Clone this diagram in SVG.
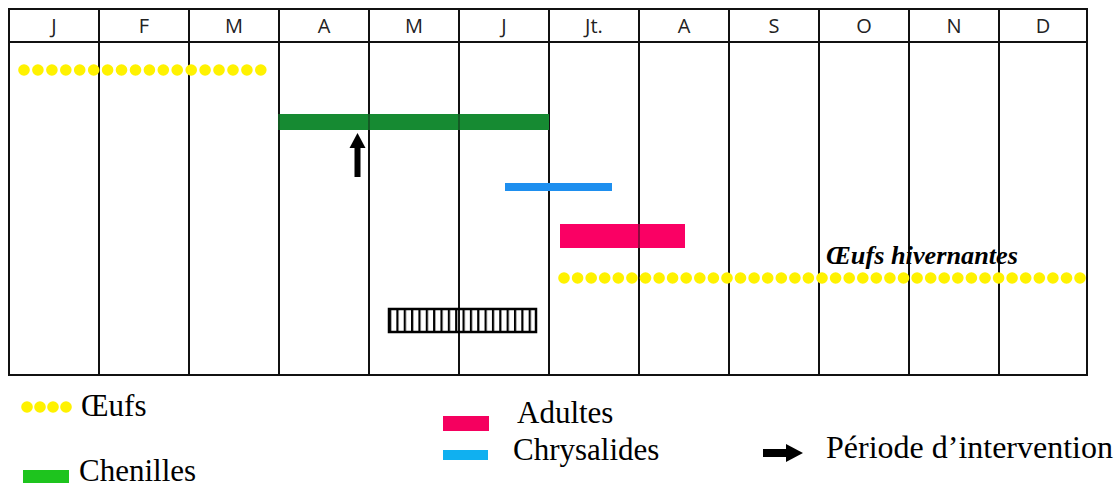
<svg xmlns="http://www.w3.org/2000/svg" width="1119" height="486" viewBox="0 0 1119 486">
<style>
.grid{stroke:#111;stroke-width:2;fill:none}
.mon{font-family:"Open Sans","Liberation Sans",sans-serif;font-size:20px;fill:#222;text-anchor:middle}
.egg{fill:#fff200}
.leg{font-family:"Liberation Serif","Times New Roman",serif;font-size:31px;fill:#000}
.hiv{font-family:"Liberation Serif","Times New Roman",serif;font-size:25px;font-weight:bold;font-style:italic;fill:#000}
</style>
<defs>
<circle id="dot" r="5.8" class="egg"/>
<pattern id="hatch" x="389" y="0" width="7.35" height="30" patternUnits="userSpaceOnUse">
<rect x="0" y="0" width="2.2" height="30" fill="#000"/>
</pattern>
</defs>
<rect width="1119" height="486" fill="#fff"/>
<g id="table">
<rect x="9" y="9" width="1078" height="366" class="grid"/>
<line x1="9" y1="42" x2="1087" y2="42" class="grid"/>
<path class="grid" d="M99 9V375M189 9V375M279 9V375M369 9V375M459 9V375M549 9V375M639 9V375M729 9V375M819 9V375M909 9V375M999 9V375"/>
<text class="mon" x="54" y="33">J</text>
<text class="mon" x="144" y="33">F</text>
<text class="mon" x="234" y="33">M</text>
<text class="mon" x="324" y="33">A</text>
<text class="mon" x="414" y="33">M</text>
<text class="mon" x="504" y="33">J</text>
<text class="mon" x="594" y="33">Jt.</text>
<text class="mon" x="684" y="33">A</text>
<text class="mon" x="774" y="33">S</text>
<text class="mon" x="864" y="33">O</text>
<text class="mon" x="954" y="33">N</text>
<text class="mon" x="1043" y="33">D</text>
</g>
<g id="oeufs-hiver-debut">
<use href="#dot" x="24" y="70"/><use href="#dot" x="37.9" y="70"/><use href="#dot" x="51.9" y="70"/><use href="#dot" x="65.8" y="70"/><use href="#dot" x="79.7" y="70"/><use href="#dot" x="93.7" y="70"/><use href="#dot" x="107.6" y="70"/><use href="#dot" x="121.5" y="70"/><use href="#dot" x="135.5" y="70"/><use href="#dot" x="149.4" y="70"/><use href="#dot" x="163.3" y="70"/><use href="#dot" x="177.2" y="70"/><use href="#dot" x="191.2" y="70"/><use href="#dot" x="205.1" y="70"/><use href="#dot" x="219" y="70"/><use href="#dot" x="233" y="70"/><use href="#dot" x="246.9" y="70"/><use href="#dot" x="260.8" y="70"/>
</g>
<g id="chenilles">
<rect x="278" y="114" width="271" height="16" fill="#168a32"/>
<path d="M279 114V130M369 114V130M459 114V130" stroke="#111" stroke-width="1.5" opacity="0.5"/>
</g>
<g id="intervention">
<rect x="354.5" y="147" width="6" height="30" fill="#000"/>
<polygon points="357.5,133 349.5,148 365.5,148" fill="#000"/>
</g>
<g id="chrysalides">
<rect x="505" y="183" width="107" height="8" fill="#1e8fef"/>
</g>
<g id="adultes">
<rect x="560" y="224" width="125" height="24" fill="#fa0064"/>
<line x1="639" y1="224" x2="639" y2="248" stroke="#111" stroke-width="1.5" opacity="0.6"/>
</g>
<g id="oeufs-hivernantes">
<text class="hiv" x="826" y="264" textLength="192" lengthAdjust="spacingAndGlyphs">Œufs hivernantes</text>
<use href="#dot" x="564" y="278"/><use href="#dot" x="577.6" y="278"/><use href="#dot" x="591.2" y="278"/><use href="#dot" x="604.7" y="278"/><use href="#dot" x="618.3" y="278"/><use href="#dot" x="631.9" y="278"/><use href="#dot" x="645.5" y="278"/><use href="#dot" x="659.1" y="278"/><use href="#dot" x="672.6" y="278"/><use href="#dot" x="686.2" y="278"/><use href="#dot" x="699.8" y="278"/><use href="#dot" x="713.4" y="278"/><use href="#dot" x="727" y="278"/><use href="#dot" x="740.5" y="278"/><use href="#dot" x="754.1" y="278"/><use href="#dot" x="767.7" y="278"/><use href="#dot" x="781.3" y="278"/><use href="#dot" x="794.9" y="278"/><use href="#dot" x="808.4" y="278"/><use href="#dot" x="822" y="278"/><use href="#dot" x="835.6" y="278"/><use href="#dot" x="849.2" y="278"/><use href="#dot" x="862.8" y="278"/><use href="#dot" x="876.3" y="278"/><use href="#dot" x="889.9" y="278"/><use href="#dot" x="903.5" y="278"/><use href="#dot" x="917.1" y="278"/><use href="#dot" x="930.7" y="278"/><use href="#dot" x="944.2" y="278"/><use href="#dot" x="957.8" y="278"/><use href="#dot" x="971.4" y="278"/><use href="#dot" x="985" y="278"/><use href="#dot" x="998.6" y="278"/><use href="#dot" x="1012.1" y="278"/><use href="#dot" x="1025.7" y="278"/><use href="#dot" x="1039.3" y="278"/><use href="#dot" x="1052.9" y="278"/><use href="#dot" x="1066.5" y="278"/><use href="#dot" x="1080" y="278"/>
</g>
<g id="hachures">
<rect x="389" y="309" width="147" height="23" fill="url(#hatch)" stroke="#000" stroke-width="2.5"/>
</g>
<g id="legende">
<use href="#dot" x="27" y="407"/><use href="#dot" x="40" y="407"/><use href="#dot" x="53" y="407"/><use href="#dot" x="66" y="407"/>
<text class="leg" x="81" y="416">Œufs</text>
<rect x="23" y="470" width="46" height="13" fill="#1ec41e"/>
<text class="leg" x="79" y="481">Chenilles</text>
<rect x="443" y="416" width="46" height="15" fill="#f5005f"/>
<text class="leg" x="517" y="423">Adultes</text>
<rect x="443" y="450" width="45" height="10" fill="#10b0f0"/>
<text class="leg" x="513" y="460">Chrysalides</text>
<rect x="763" y="449" width="26" height="8" fill="#000"/>
<polygon points="786,444 803,453 786,462" fill="#000"/>
<text class="leg" x="826" y="458" textLength="287" lengthAdjust="spacingAndGlyphs">Période d’intervention</text>
</g>
</svg>
